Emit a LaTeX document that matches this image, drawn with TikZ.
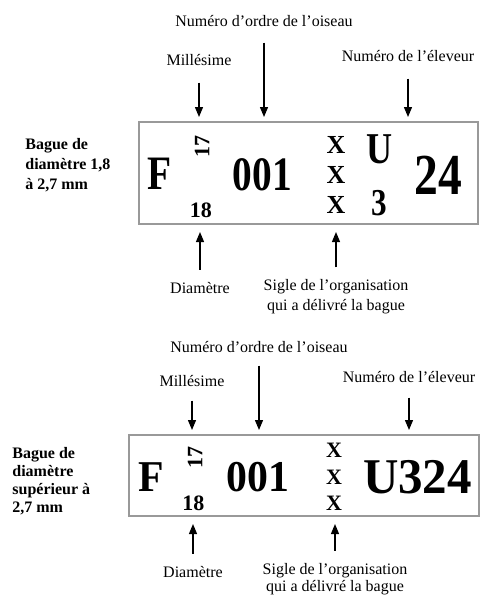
\documentclass[tikz,border=0pt]{standalone}
\usepackage{fontspec}
\setmainfont{Liberation Serif}
\usepackage{graphicx}
\usetikzlibrary{arrows.meta,positioning}
\newcommand\squeeze[2][0.82]{\scalebox{#1}[1]{#2}}

\begin{document}
\begin{tikzpicture}[
  x=0.5pt, y=-0.5pt,
  ring/.style={draw=black!40, line width=1pt, inner sep=0pt},
  tag/.style={inner sep=0pt, font=\fontsize{8}{10}\selectfont},
  side/.style={inner sep=0pt, anchor=west, align=left, font=\bfseries\fontsize{8}{10}\selectfont},
  big/.style={inner sep=0pt, font=\bfseries\fontsize{#1}{#1}\selectfont},
  flow/.style={-{Triangle[width=4pt,length=5pt]}, line width=0.6pt, shorten >=2pt},
  back/.style={-{Triangle[width=4pt,length=5pt]}, line width=0.6pt, shorten <=6pt, shorten >=3.5pt}
]
\useasboundingbox (0,0) rectangle (480,596);

% ring 1.8 to 2.7 mm
\node[ring, minimum width=169.5pt, minimum height=51pt] (ring1) at (308.5,173) {};
\node[side] (bague1) at (25,165) {Bague de\\diamètre 1,8\\à 2,7 mm};
\node[big=24] (pays1) at (160,174) {\squeeze{F}};
\node[big=11, rotate=90] (an1) at (202,146) {17};
\node[big=11] (diam1) at (201,210) {18};
\node[big=24] (num1) at (262.5,175) {\squeeze{001}};
\foreach \y [count=\i] in {145,175,205}
  \node[big=13] (xa\i) at (336,\y) {X};
\node[big=22] (u1) at (380,149) {\squeeze{U}};
\node[big=19] (t1) at (379,203) {\squeeze{3}};
\node[big=29] (el1) at (438,175) {\squeeze{24}};

\node[tag] (ordre1) at (264,21) {Numéro d'ordre de l'oiseau};
\node[tag] (mil1) at (199,60) {Millésime};
\node[tag] (elev1) at (408,56) {Numéro de l'éleveur};
\node[tag] (dtag1) at (200,288) {Diamètre};
\node[tag, align=center] (sigle1) at (336,297) {Sigle de l'organisation\\qui a délivré la bague};

% ring above 2.7 mm
\node[ring, minimum width=175pt, minimum height=40.5pt] (ring2) at (304,475.5) {};
\node[side, font=\bfseries\fontsize{8}{9}\selectfont] (bague2) at (12,481) {Bague de\\diamètre\\supérieur à\\2,7 mm};
\node[big=22] (pays2) at (151,477) {\squeeze[0.95]{F}};
\node[big=11, rotate=90] (an2) at (195,457) {17};
\node[big=11] (diam2) at (193.5,503) {18};
\node[big=22] (num2) at (258,477) {\squeeze[0.95]{001}};
\foreach \y [count=\i] in {450,477,503}
  \node[big=11] (xb\i) at (334,\y) {X};
\node[big=25] (el2) at (417.5,477) {\squeeze[0.98]{U324}};

\node[tag] (ordre2) at (259,347) {Numéro d'ordre de l'oiseau};
\node[tag] (mil2) at (192,381) {Millésime};
\node[tag] (elev2) at (409,377) {Numéro de l'éleveur};
\node[tag] (dtag2) at (193,572) {Diamètre};
\node[tag, align=center, font=\fontsize{8}{8.5}\selectfont] (sigle2) at (335,579) {Sigle de l'organisation\\qui a délivré la bague};

% arrows
\foreach \a/\b/\s in {ordre1/ring1/7.8pt, mil1/ring1/8.3pt, elev1/ring1/8.3pt,
                      ordre2/ring2/6.3pt, mil2/ring2/6.8pt, elev2/ring2/7.3pt}
  \draw[flow, shorten <=\s] (\a.south) -- (\a.south |- \b.north);
\foreach \a/\b in {dtag1/ring1, sigle1/ring1, dtag2/ring2, sigle2/ring2}
  \draw[back] (\a.north) -- (\a.north |- \b.south);

\end{tikzpicture}
\end{document}
